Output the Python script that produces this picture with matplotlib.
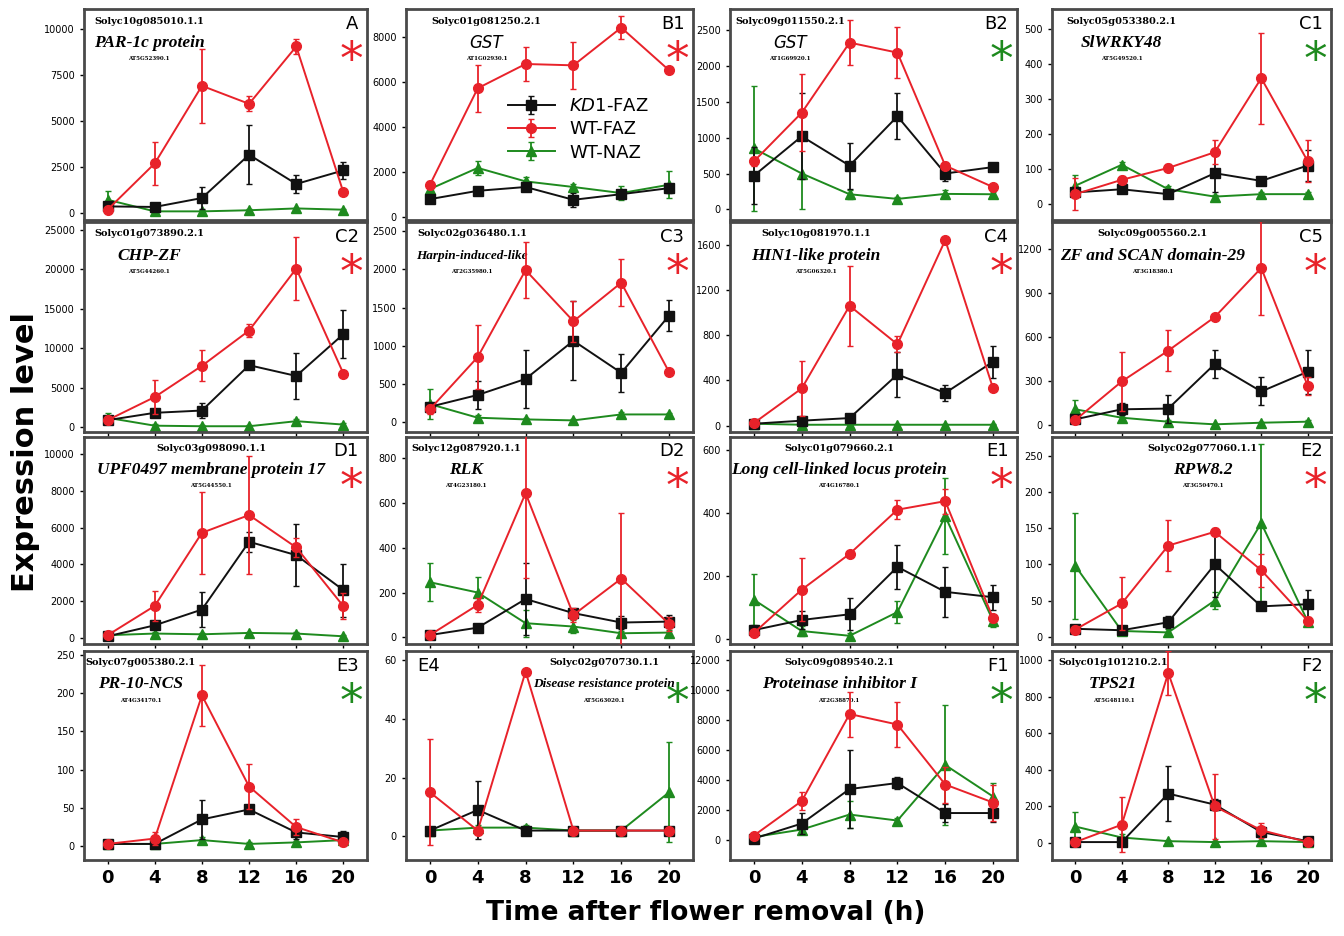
import numpy as np
import matplotlib.pyplot as plt

times = [0, 4, 8, 12, 16, 20]

panels = ["A", "B1", "B2", "C1",
          "C2", "C3", "C4", "C5",
          "D1", "D2", "E1", "E2",
          "E3", "E4", "F1", "F2"]

gene_ids = ["Solyc10g085010.1.1", "Solyc01g081250.2.1", "Solyc09g011550.2.1", "Solyc05g053380.2.1",
            "Solyc01g073890.2.1", "Solyc02g036480.1.1", "Solyc10g081970.1.1", "Solyc09g005560.2.1",
            "Solyc03g098090.1.1", "Solyc12g087920.1.1", "Solyc01g079660.2.1", "Solyc02g077060.1.1",
            "Solyc07g005380.2.1", "Solyc02g070730.1.1", "Solyc09g089540.2.1", "Solyc01g101210.2.1"]

gene_names = ["PAR-1c protein", "GST", "GST", "SlWRKY48",
              "CHP-ZF", "Harpin-induced-like", "HIN1-like protein", "ZF and SCAN domain-29",
              "UPF0497 membrane protein 17", "RLK", "Long cell-linked locus protein", "RPW8.2",
              "PR-10-NCS", "Disease resistance protein", "Proteinase inhibitor I", "TPS21"]

at_ids = ["AT5G52390.1", "AT1G02930.1", "AT1G69920.1", "AT5G49520.1",
          "AT5G44260.1", "AT2G35980.1", "AT5G06320.1", "AT3G18380.1",
          "AT5G44550.1", "AT4G23180.1", "AT4G16780.1", "AT3G50470.1",
          "AT4G34170.1", "AT5G63020.1", "AT2G38870.1", "AT5G48110.1"]

star_colors = ["red", "red", "green", "green",
               "red", "red", "red", "red",
               "red", "red", "red", "red",
               "green", "green", "green", "green"]

# KD1-FAZ
kd1 = [[360, 330, 815, 3170, 1580, 2320],
       [780, 1150, 1320, 750, 1000, 1270],
       [470, 1020, 610, 1300, 500, 590],
       [33, 42, 28, 88, 66, 110],
       [900, 1830, 2120, 7860, 6500, 11800],
       [200, 355, 565, 1065, 645, 1395],
       [18, 45, 68, 453, 290, 566],
       [41, 109, 114, 416, 230, 364],
       [70, 670, 1530, 5230, 4500, 2590],
       [10, 43, 171, 108, 66, 70],
       [29, 61, 79, 229, 150, 133],
       [11, 9, 20, 100, 42, 45],
       [3, 3, 35, 48, 18, 12],
       [2, 9, 2, 2, 2, 2],
       [100, 1100, 3400, 3800, 1800, 1800],
       [5, 5, 270, 210, 60, 10]]
kd1_err = [[100, 100, 600, 1600, 500, 450],
           [100, 100, 150, 300, 150, 200],
           [400, 600, 320, 320, 100, 30],
           [10, 8, 8, 55, 10, 45],
           [300, 400, 1000, 300, 2900, 3000],
           [40, 180, 375, 520, 250, 200],
           [5, 10, 15, 200, 70, 140],
           [20, 40, 95, 95, 95, 150],
           [50, 150, 940, 550, 1690, 1450],
           [5, 10, 160, 20, 30, 30],
           [10, 30, 50, 70, 78, 40],
           [5, 5, 8, 45, 5, 20],
           [2, 2, 25, 5, 8, 8],
           [1, 10, 1, 1, 1, 1],
           [100, 700, 2600, 400, 600, 600],
           [5, 5, 150, 30, 20, 10]]

# WT-FAZ
wt_faz = [[180, 2700, 6920, 5940, 9060, 1120],
          [1420, 5720, 6800, 6740, 8420, 6520],
          [670, 1350, 2330, 2190, 610, 310],
          [28, 69, 103, 148, 360, 122],
          [900, 3830, 7780, 12250, 20100, 6800],
          [168, 852, 1990, 1320, 1825, 655],
          [24, 330, 1060, 720, 1640, 330],
          [36, 298, 507, 735, 1068, 268],
          [130, 1730, 5720, 6690, 4920, 1710],
          [10, 145, 644, 100, 262, 60],
          [20, 157, 270, 410, 437, 66],
          [10, 46, 126, 145, 92, 22],
          [3, 10, 197, 78, 25, 5],
          [15, 2, 56, 2, 2, 2],
          [300, 2600, 8400, 7700, 3700, 2500],
          [5, 100, 930, 200, 70, 5]]
wt_faz_err = [[150, 1180, 2000, 400, 400, 100],
              [150, 1050, 770, 1050, 520, 100],
              [60, 540, 310, 360, 50, 30],
              [45, 10, 10, 35, 130, 60],
              [300, 2200, 1950, 800, 4000, 300],
              [60, 420, 365, 270, 310, 40],
              [5, 240, 355, 70, 10, 20],
              [10, 200, 140, 20, 320, 60],
              [50, 800, 2230, 3200, 500, 700],
              [5, 30, 380, 30, 295, 30],
              [8, 100, 10, 30, 40, 10],
              [5, 36, 35, 5, 23, 5],
              [3, 8, 40, 30, 10, 5],
              [18, 1, 1, 1, 1, 1],
              [200, 600, 1500, 1500, 1200, 1200],
              [5, 150, 120, 180, 40, 5]]

# WT-NAZ
wt_naz = [[720, 90, 90, 150, 250, 180],
          [1230, 2170, 1570, 1320, 1050, 1420],
          [850, 500, 210, 145, 215, 210],
          [52, 112, 42, 21, 28, 28],
          [1200, 200, 130, 130, 770, 340],
          [235, 57, 35, 22, 100, 100],
          [18, 9, 9, 9, 9, 9],
          [109, 52, 25, 7, 18, 25],
          [130, 220, 180, 255, 220, 70],
          [246, 200, 63, 48, 18, 21],
          [125, 26, 11, 86, 389, 58],
          [98, 8, 6, 50, 157, 21],
          [3, 3, 8, 3, 5, 8],
          [2, 3, 3, 2, 2, 15],
          [200, 700, 1700, 1300, 5000, 2900],
          [90, 30, 10, 5, 10, 5]]
wt_naz_err = [[500, 50, 50, 50, 50, 50],
              [150, 300, 200, 150, 300, 600],
              [870, 500, 60, 30, 60, 30],
              [30, 8, 8, 5, 5, 5],
              [600, 200, 100, 100, 300, 150],
              [200, 30, 20, 15, 30, 20],
              [5, 5, 5, 5, 5, 5],
              [60, 20, 10, 5, 5, 10],
              [50, 60, 60, 60, 60, 50],
              [85, 70, 60, 30, 10, 10],
              [80, 15, 10, 35, 120, 20],
              [73, 5, 5, 12, 110, 5],
              [2, 2, 4, 2, 2, 3],
              [1, 1, 1, 1, 1, 17],
              [100, 300, 900, 200, 4000, 900],
              [80, 20, 8, 5, 8, 5]]

y_ticks = [np.arange(0, 10001, 2500), np.arange(0, 8001, 2000), np.arange(0, 2501, 500), np.arange(0, 501, 100),
           np.arange(0, 25001, 5000), np.arange(0, 2501, 500), np.arange(0, 1601, 400), np.arange(0, 1201, 300),
           np.arange(0, 10001, 2000), np.arange(0, 801, 200), np.arange(0, 601, 200), np.arange(0, 251, 50),
           np.arange(0, 251, 50), np.arange(0, 61, 20), np.arange(0, 12001, 2000), np.arange(0, 1001, 200)]
y_lims = [(-380, 11100), (-150, 9250), (-150, 2800), (-46, 558),
          (-600, 26000), (-130, 2620), (-55, 1800), (-45, 1380),
          (-350, 10950), (-30, 895), (-15, 640), (-10, 276),
          (-18, 255), (-8, 63), (-1330, 12600), (-93, 1050)]

# text block horizontal centre (axes fraction) per panel
txt_x = [0.23, 0.28, 0.21, 0.25,
         0.23, 0.23, 0.30, 0.36,
         0.45, 0.21, 0.38, 0.54,
         0.20, 0.69, 0.38, 0.22]

RED = "#e8222a"
GREEN = "#1e8a1e"
BLACK = "#111111"

col_left = [84, 406, 730, 1052]
col_w = [283, 287, 287, 279]
row_top = [9, 222, 437, 651]
row_h = [211, 210, 207, 209]
W, H = 1344, 936

fig = plt.figure(figsize=(13.44, 9.36), dpi=100)

for i in range(16):
    r, c = divmod(i, 4)
    ax = fig.add_axes([col_left[c] / W, 1 - (row_top[r] + row_h[r]) / H, col_w[c] / W, row_h[r] / H])

    ax.errorbar(times, wt_naz[i], yerr=wt_naz_err[i], fmt="-^", color=GREEN, ms=7, lw=1.4,
                elinewidth=1.3, capsize=2, label="WT-NAZ", zorder=2)
    ax.errorbar(times, kd1[i], yerr=kd1_err[i], fmt="-s", color=BLACK, ms=7, lw=1.4,
                elinewidth=1.3, capsize=2, label=r"$\it{KD1}$-FAZ", zorder=3)
    ax.errorbar(times, wt_faz[i], yerr=wt_faz_err[i], fmt="-o", color=RED, ms=7, lw=1.4,
                elinewidth=1.3, capsize=2, label="WT-FAZ", zorder=4)

    ax.set_xlim(-2, 22)
    ax.set_ylim(*y_lims[i])
    ax.set_yticks(y_ticks[i])
    ax.set_xticks(times)
    ax.tick_params(axis="y", labelsize=7, length=3, width=1)
    ax.tick_params(axis="x", length=3, width=1)
    if r == 3:
        ax.set_xticklabels([str(t) for t in times], fontsize=13, fontweight="bold")
    else:
        ax.set_xticklabels([])
    for sp in ax.spines.values():
        sp.set_color("#4a4a4a")
        sp.set_linewidth(2)

    # gene text block
    tx = txt_x[i]
    ax.text(tx, 0.943, gene_ids[i], transform=ax.transAxes, ha="center", va="center",
            fontsize=7, fontweight="bold", family="DejaVu Serif")
    if gene_names[i] == "GST":
        ax.text(tx, 0.84, "GST", transform=ax.transAxes, ha="center", va="center",
                fontsize=12, style="italic", family="DejaVu Sans")
    else:
        nfs = 12.5
        if gene_names[i] == "Harpin-induced-like":
            nfs = 9.5
        if gene_names[i] == "Disease resistance protein":
            nfs = 9.5
        ax.text(tx, 0.84, gene_names[i], transform=ax.transAxes, ha="center", va="center",
                fontsize=nfs, style="italic", fontweight="bold", family="Liberation Serif")
    ax.text(tx, 0.765, at_ids[i], transform=ax.transAxes, ha="center", va="center",
            fontsize=4, fontweight="bold", family="DejaVu Serif")

    # panel label and asterisk
    if panels[i] == "E4":
        ax.text(0.04, 0.93, panels[i], transform=ax.transAxes, ha="left", va="center", fontsize=13)
    else:
        ax.text(0.97, 0.93, panels[i], transform=ax.transAxes, ha="right", va="center", fontsize=13)
    sc = RED if star_colors[i] == "red" else GREEN
    ax.text(0.945, 0.75, "*", transform=ax.transAxes, ha="center", va="center",
            fontsize=34, color=sc)

    if panels[i] == "B1":
        h, l = ax.get_legend_handles_labels()
        order = [1, 2, 0]
        ax.legend([h[k] for k in order], [l[k] for k in order], loc="center",
                  bbox_to_anchor=(0.6, 0.43), frameon=False, fontsize=13,
                  handlelength=2.6, labelspacing=0.3, borderpad=0.2)

fig.text(0.019, 0.517, "Expression level", rotation=90, ha="center", va="center",
         fontsize=22, fontweight="bold")
fig.text(0.525, 0.025, "Time after flower removal (h)", ha="center", va="center",
         fontsize=19, fontweight="bold")

fig.savefig("out.png", dpi=100)
